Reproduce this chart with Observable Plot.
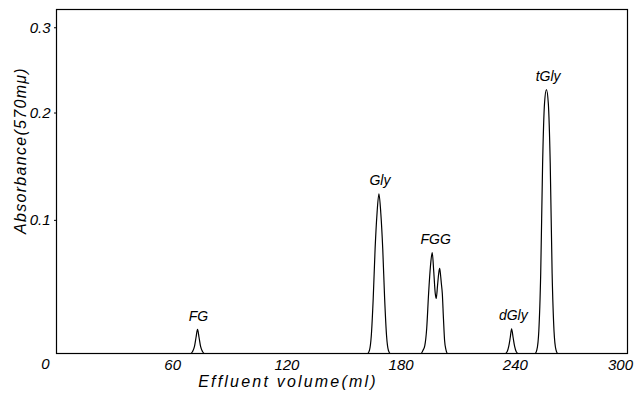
<!DOCTYPE html>
<html>
<head>
<meta charset="utf-8">
<script src="https://cdn.jsdelivr.net/npm/d3@7"></script>
<script src="https://cdn.jsdelivr.net/npm/@observablehq/plot@0.6"></script>
<style>
  body { margin: 0; background: #fff; }
</style>
</head>
<body>
<div id="chart"></div>
<script>
const volume = [
  0,
  70.5, 71.5, 72.5, 73.3, 74.1, 74.9, 75.7, 76.7, 77.7,
  163.4, 164.4, 165.4, 166.4, 167.4, 168.4, 169.4, 170.4, 171.4, 172.4, 173.4, 174.4, 175.4,
  191.5, 192.5, 193.5, 194.5, 195.5, 196.5, 197.4, 198.2, 199.0, 199.5, 200.2, 200.8, 201.3, 201.8, 202.2, 202.7, 203.3, 203.9, 204.6, 205.5,
  235.8, 236.8, 237.6, 238.4, 239.1, 239.9, 240.7, 241.5, 242.5,
  251.4, 252.4, 253.4, 254.4, 255.4, 256.4, 257.4, 258.4, 259.4, 260.4, 261.4, 262.4, 263.4,
  300
];
const absorbance = [
  0,
  0, 0.0013, 0.0047, 0.0107, 0.0162, 0.0107, 0.0047, 0.0013, 0,
  0, 0.002, 0.0121, 0.038, 0.0756, 0.1041, 0.121, 0.1041, 0.0756, 0.038, 0.0121, 0.002, 0,
  0, 0.002, 0.0053, 0.0169, 0.0416, 0.0624, 0.0725, 0.0579, 0.0416, 0.038, 0.0475, 0.0564, 0.0602, 0.0549, 0.0489, 0.0416, 0.0238, 0.0087, 0.0026, 0,
  0, 0.0013, 0.0047, 0.0107, 0.0166, 0.0107, 0.0047, 0.0013, 0,
  0, 0.0026, 0.0150, 0.0564, 0.1483, 0.208, 0.223, 0.208, 0.1483, 0.0564, 0.0150, 0.0026, 0,
  0
];

// Peak annotations
const peakNames = ["FG", "Gly", "FGG", "dGly", "tGly"];
const peakVolume = [74.6, 169.9, 199.2, 240.0, 258.3];
const peakAbsorbance = [0.0162, 0.121, 0.0725, 0.0166, 0.223];

// Axes
const xDomain = [0, 300];
const yMax = 0.322;
const xTicks = [0, 60, 120, 180, 240, 300];
const xTickLabels = ["0", "60", "120", "180", "240", "300"];
const yTicks = [0.1, 0.2, 0.3];
const yTickLabels = ["0.1", "0.2", "0.3"];
const xTitle = "Effluent volume(ml)";
const yTitle = "Absorbance(570mμ)";

// The recorder pen is linear in transmittance, so absorbance is plotted as 1 - 10^-A
const toRecorder = a => 1 - Math.pow(10, -a);

const trace = volume.map((v, i) => ({v, a: absorbance[i]}));
const peaks = peakNames.map((name, i) => ({name, v: peakVolume[i], a: peakAbsorbance[i]}));
const yTickPos = yTicks.map(toRecorder);
const xLabelFor = d => xTickLabels[xTicks.indexOf(d)];

const chart = Plot.plot({
  width: 640,
  height: 396,
  marginLeft: 56,
  marginRight: 13,
  marginTop: 9,
  marginBottom: 43,
  style: {
    fontFamily: "'Liberation Sans', Arial, sans-serif",
    fontStyle: "italic",
    fontSize: "15px",
    background: "#fff",
    color: "#000"
  },
  x: {domain: xDomain},
  y: {domain: [0, toRecorder(yMax)]},
  marks: [
    Plot.frame({stroke: "#000", strokeWidth: 1.2}),
    Plot.axisX(xTicks.slice(1, -1), {
      tickSize: 0,
      tickPadding: 6,
      fontSize: 15,
      dx: 2,
      tickFormat: xLabelFor,
      label: null
    }),
    Plot.axisX(xTicks.slice(-1), {
      tickSize: 0,
      tickPadding: 6,
      fontSize: 15,
      dx: -7,
      tickFormat: xLabelFor,
      label: null
    }),
    Plot.text([xTickLabels[0]], {
      x: () => xTicks[0],
      y: () => 0,
      dx: -11,
      dy: 11,
      fontSize: 15,
      fill: "#000"
    }),
    Plot.axisY(yTickPos, {
      tickSize: 2,
      tickPadding: 4,
      fontSize: 15,
      dy: 2,
      tickFormat: d => yTickLabels[yTickPos.findIndex(t => Math.abs(t - d) < 1e-9)],
      label: null
    }),
    Plot.text([xTitle], {
      frameAnchor: "bottom",
      textAnchor: "middle",
      dx: -54,
      dy: 33,
      fontSize: 16,
      fill: "#000"
    }),
    Plot.text([yTitle], {
      frameAnchor: "left",
      textAnchor: "middle",
      rotate: -90,
      dx: -36,
      dy: -31,
      fontSize: 16,
      fill: "#000"
    }),
    Plot.line(trace, {
      x: "v",
      y: d => toRecorder(d.a),
      curve: "monotone-x",
      stroke: "#000",
      strokeWidth: 1.2
    }),
    Plot.text(peaks, {
      x: "v",
      y: d => toRecorder(d.a),
      text: "name",
      dy: -13,
      fontSize: 14,
      fill: "#000"
    })
  ]
});

// spaced-out lettering of the axis titles, as on the original drawing
chart.querySelectorAll("text").forEach(t => {
  if (t.textContent === xTitle) t.style.letterSpacing = "2.2px";
  if (t.textContent === yTitle) t.style.letterSpacing = "1.3px";
});

document.getElementById("chart").appendChild(chart);
</script>
</body>
</html>
